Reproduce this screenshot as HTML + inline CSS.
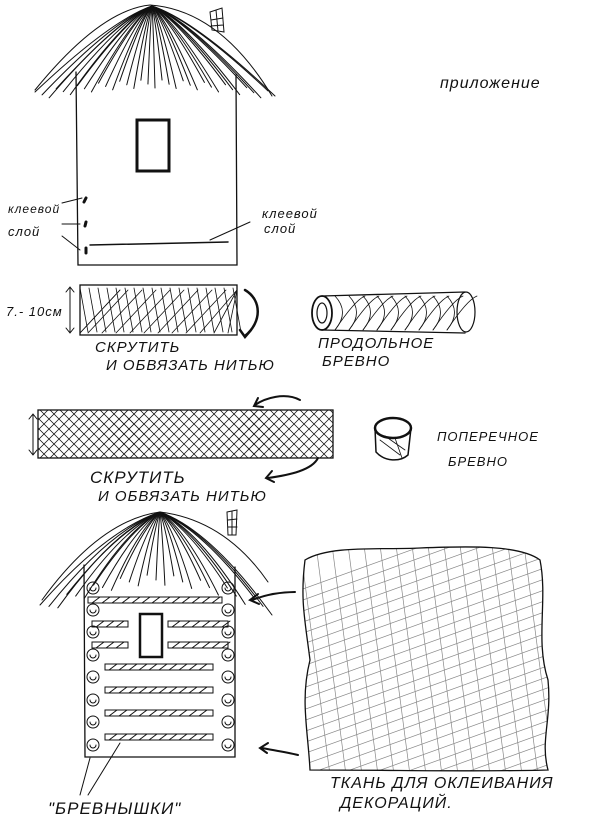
<!DOCTYPE html>
<html><head><meta charset="utf-8"><style>
html,body{margin:0;padding:0;background:#fff;width:600px;height:827px;overflow:hidden}
svg{display:block}
text{font-family:"Liberation Sans","DejaVu Sans",sans-serif;fill:#111;font-style:italic;font-weight:normal;letter-spacing:1px;stroke:none}
</style></head><body>
<svg id="s" width="600" height="827" viewBox="0 0 600 827" stroke="#111" fill="none" stroke-linecap="round">
<defs><clipPath id="fc"><path d="M305 560 C330 545 380 550 420 548 C470 546 520 545 540 560 C548 600 535 640 548 680 C552 720 540 740 548 770 C480 772 400 770 310 770 C308 730 300 700 310 660 C305 620 300 600 305 560 Z"/></clipPath></defs>
<!-- top house walls -->
<path d="M76 72 L78 265 L237 265 L236 75" stroke-width="1.3"/>
<rect x="137" y="120" width="32" height="51" stroke-width="3"/>
<path d="M210 12 L222 8 L224 32 L212 30 Z M211 20 L223 18 M211 26 L223 25 M216 10 L218 31" stroke-width="1"/>
<g id="roof1" stroke-width="1"></g>
<path d="M90 245 L228 242" stroke-width="1.5"/>
<path d="M86 198 L84 202 M86 222 L85 226 M86 248 L86 253" stroke-width="3"/>
<path d="M62 203 L82 198 M62 224 L80 224 M62 236 L80 250 M250 222 L210 240" stroke-width="1"/>
<text x="8" y="213" font-size="12">клеевой</text>
<text x="8" y="236" font-size="13">слой</text>
<text x="262" y="218" font-size="13">клеевой</text>
<text x="264" y="233" font-size="13">слой</text>
<text x="440" y="88" font-size="16">приложение</text>
<!-- strip 1 -->
<rect x="80" y="285" width="157" height="50" stroke-width="1.3"/>
<g id="h1" stroke-width="0.8"></g>
<path d="M70 287 L70 333 M66 292 L70 287 L74 292 M66 328 L70 333 L74 328" stroke-width="1"/>
<text x="6" y="316" font-size="13" font-style="normal">7.- 10см</text>
<path d="M245 290 C262 300 262 322 245 336 M240 330 L245 337 L251 330" stroke-width="2.5"/>
<text x="95" y="352" font-size="15">СКРУТИТЬ</text>
<text x="106" y="370" font-size="15">И ОБВЯЗАТЬ НИТЬЮ</text>
<!-- long log -->
<ellipse cx="322" cy="313" rx="10" ry="17" stroke-width="1.8"/>
<ellipse cx="322" cy="313" rx="5" ry="10" stroke-width="1.2"/>
<path d="M322 296 L465 292 M322 330 L465 333" stroke-width="1.3"/>
<ellipse cx="466" cy="312" rx="9" ry="20" stroke-width="1.2"/>
<g id="lg" stroke-width="0.8"></g>
<text x="318" y="348" font-size="15">ПРОДОЛЬНОЕ</text>
<text x="322" y="366" font-size="15">БРЕВНО</text>
<!-- strip 2 -->
<rect x="38" y="410" width="295" height="48" stroke-width="1.3"/>
<g id="h2" stroke-width="0.8"></g>
<path d="M33 414 L33 455 M29 419 L33 414 L37 419 M29 450 L33 455 L37 450" stroke-width="1"/>
<path d="M300 400 C285 392 265 398 255 405 M258 398 L254 406 L263 407" stroke-width="2"/>
<path d="M318 458 C312 470 290 475 268 478 M272 471 L266 478 L274 482" stroke-width="2"/>
<text x="90" y="483" font-size="17">СКРУТИТЬ</text>
<text x="98" y="501" font-size="15">И ОБВЯЗАТЬ НИТЬЮ</text>
<!-- small roll -->
<ellipse cx="393" cy="428" rx="18" ry="10" stroke-width="2.5"/>
<path d="M375 428 L376 452 M411 428 L408 455 M376 452 C385 462 400 462 408 455" stroke-width="1.5"/>
<path d="M380 440 L400 455 M385 436 L405 450 M395 438 L402 458" stroke-width="0.8"/>
<text x="437" y="441" font-size="13">ПОПЕРЕЧНОЕ</text>
<text x="448" y="466" font-size="13">БРЕВНО</text>
<!-- bottom house -->
<path d="M84 565 L85 757 L235 757 L235 567" stroke-width="1.3"/>
<rect x="140" y="614" width="22" height="43" stroke-width="2.5"/>
<path d="M227 512 L237 510 L236 535 L228 535 Z M228 520 L237 519 M228 527 L237 527 M232 511 L232 535" stroke-width="1"/>
<g id="roof2" stroke-width="1"></g>
<g id="logs" stroke-width="1"></g>
<path d="M90 758 L80 795 M120 743 L88 795" stroke-width="1"/>
<text x="48" y="814" font-size="17">"БРЕВНЫШКИ"</text>
<path d="M295 592 C280 592 265 595 252 600 M258 594 L250 600 L259 604" stroke-width="2"/>
<path d="M298 755 C285 752 272 750 262 748 M268 743 L260 748 L267 753" stroke-width="2"/>
<!-- fabric -->
<g id="fab" stroke-width="0.7" stroke="#888" clip-path="url(#fc)"></g>
<path d="M305 560 C330 545 380 550 420 548 C470 546 520 545 540 560 C548 600 535 640 548 680 C552 720 540 740 548 770 C480 772 400 770 310 770 C308 730 300 700 310 660 C305 620 300 600 305 560 Z" stroke-width="1.3"/>
<text x="330" y="788" font-size="16">ТКАНЬ ДЛЯ ОКЛЕИВАНИЯ</text>
<text x="340" y="808" font-size="16">ДЕКОРАЦИЙ.</text>
</svg>
<script>
function L(g,x1,y1,x2,y2){var e=document.createElementNS("http://www.w3.org/2000/svg","path");e.setAttribute("d","M"+x1+" "+y1+" L"+x2+" "+y2);document.getElementById(g).appendChild(e);}
function Q(g,d){var e=document.createElementNS("http://www.w3.org/2000/svg","path");e.setAttribute("d",d);document.getElementById(g).appendChild(e);}
for(var i=0;i<=34;i++){var t=i/34;var x=35+t*240;var y=92-Math.sin(t*Math.PI)*12+(i%3)*4;var cx=152+(x-152)*0.35;Q("roof1","M152 6 Q"+cx+" 20 "+x+" "+y);}
Q("roof1","M35 90 Q100 10 150 5 Q220 10 272 96");
for(var i=0;i<=26;i++){var t=i/26;var x=40+t*232;var y=605-Math.sin(t*Math.PI)*30+(i%3)*5;var cx=160+(x-160)*0.45;Q("roof2","M160 512 Q"+cx+" 530 "+x+" "+y);}
Q("roof2","M42 600 Q100 520 160 512 Q225 520 268 582");
for(var x=80;x<237;x+=9){L("h1",x,288,x+8,332);}
for(var x=60;x<237;x+=14){var a=Math.max(80,x);L("h1",a,333,Math.min(237,a+40),290);}
for(var x=-10;x<335;x+=10){var x1=Math.max(38,x),x2=Math.min(333,x+48);L("h2",x1,458-(x1-x),x2,458-(x2-x));L("h2",x1,410+(x1-x),x2,410+(x2-x));}
for(var x=335;x<460;x+=14){Q("lg","M"+x+" 296 Q"+(x+15)+" 312 "+x+" 330");Q("lg","M"+x+" 330 Q"+(x+20)+" 300 "+(x+30)+" 296");}
var ys=[600,624,645,667,690,713,737];
ys.forEach(function(y,i){var x1=(i==0)?88:(i<3?92:105),x2=(i==0)?222:(i<3?128:213);
Q("logs","M"+x1+" "+(y-3)+" L"+x2+" "+(y-3)+" L"+x2+" "+(y+3)+" L"+x1+" "+(y+3)+" Z");
if(i>0&&i<3){Q("logs","M168 "+(y-3)+" L228 "+(y-3)+" L228 "+(y+3)+" L168 "+(y+3)+" Z");for(var x=172;x<226;x+=10)L("logs",x,y+3,x+8,y-3);}
for(var x=x1+4;x<x2-4;x+=10)L("logs",x,y+3,x+8,y-3);});
[588,610,632,655,677,700,722,745].forEach(function(y){Q("logs","M"+93+" "+y+" m-6 0 a6 6 0 1 0 12 0 a6 6 0 1 0 -12 0 m3 0 a3 3 0 1 0 6 0");Q("logs","M"+228+" "+y+" m-6 0 a6 6 0 1 0 12 0 a6 6 0 1 0 -12 0 m3 0 a3 3 0 1 0 6 0");});
for(var k=0;k<26;k++){var y=560+k*11;L("fab",300,y+30,550,y-60);}
for(var k=0;k<18;k++){var x=300+k*16;L("fab",x,545,x+30,775);}
</script>
</body></html>
